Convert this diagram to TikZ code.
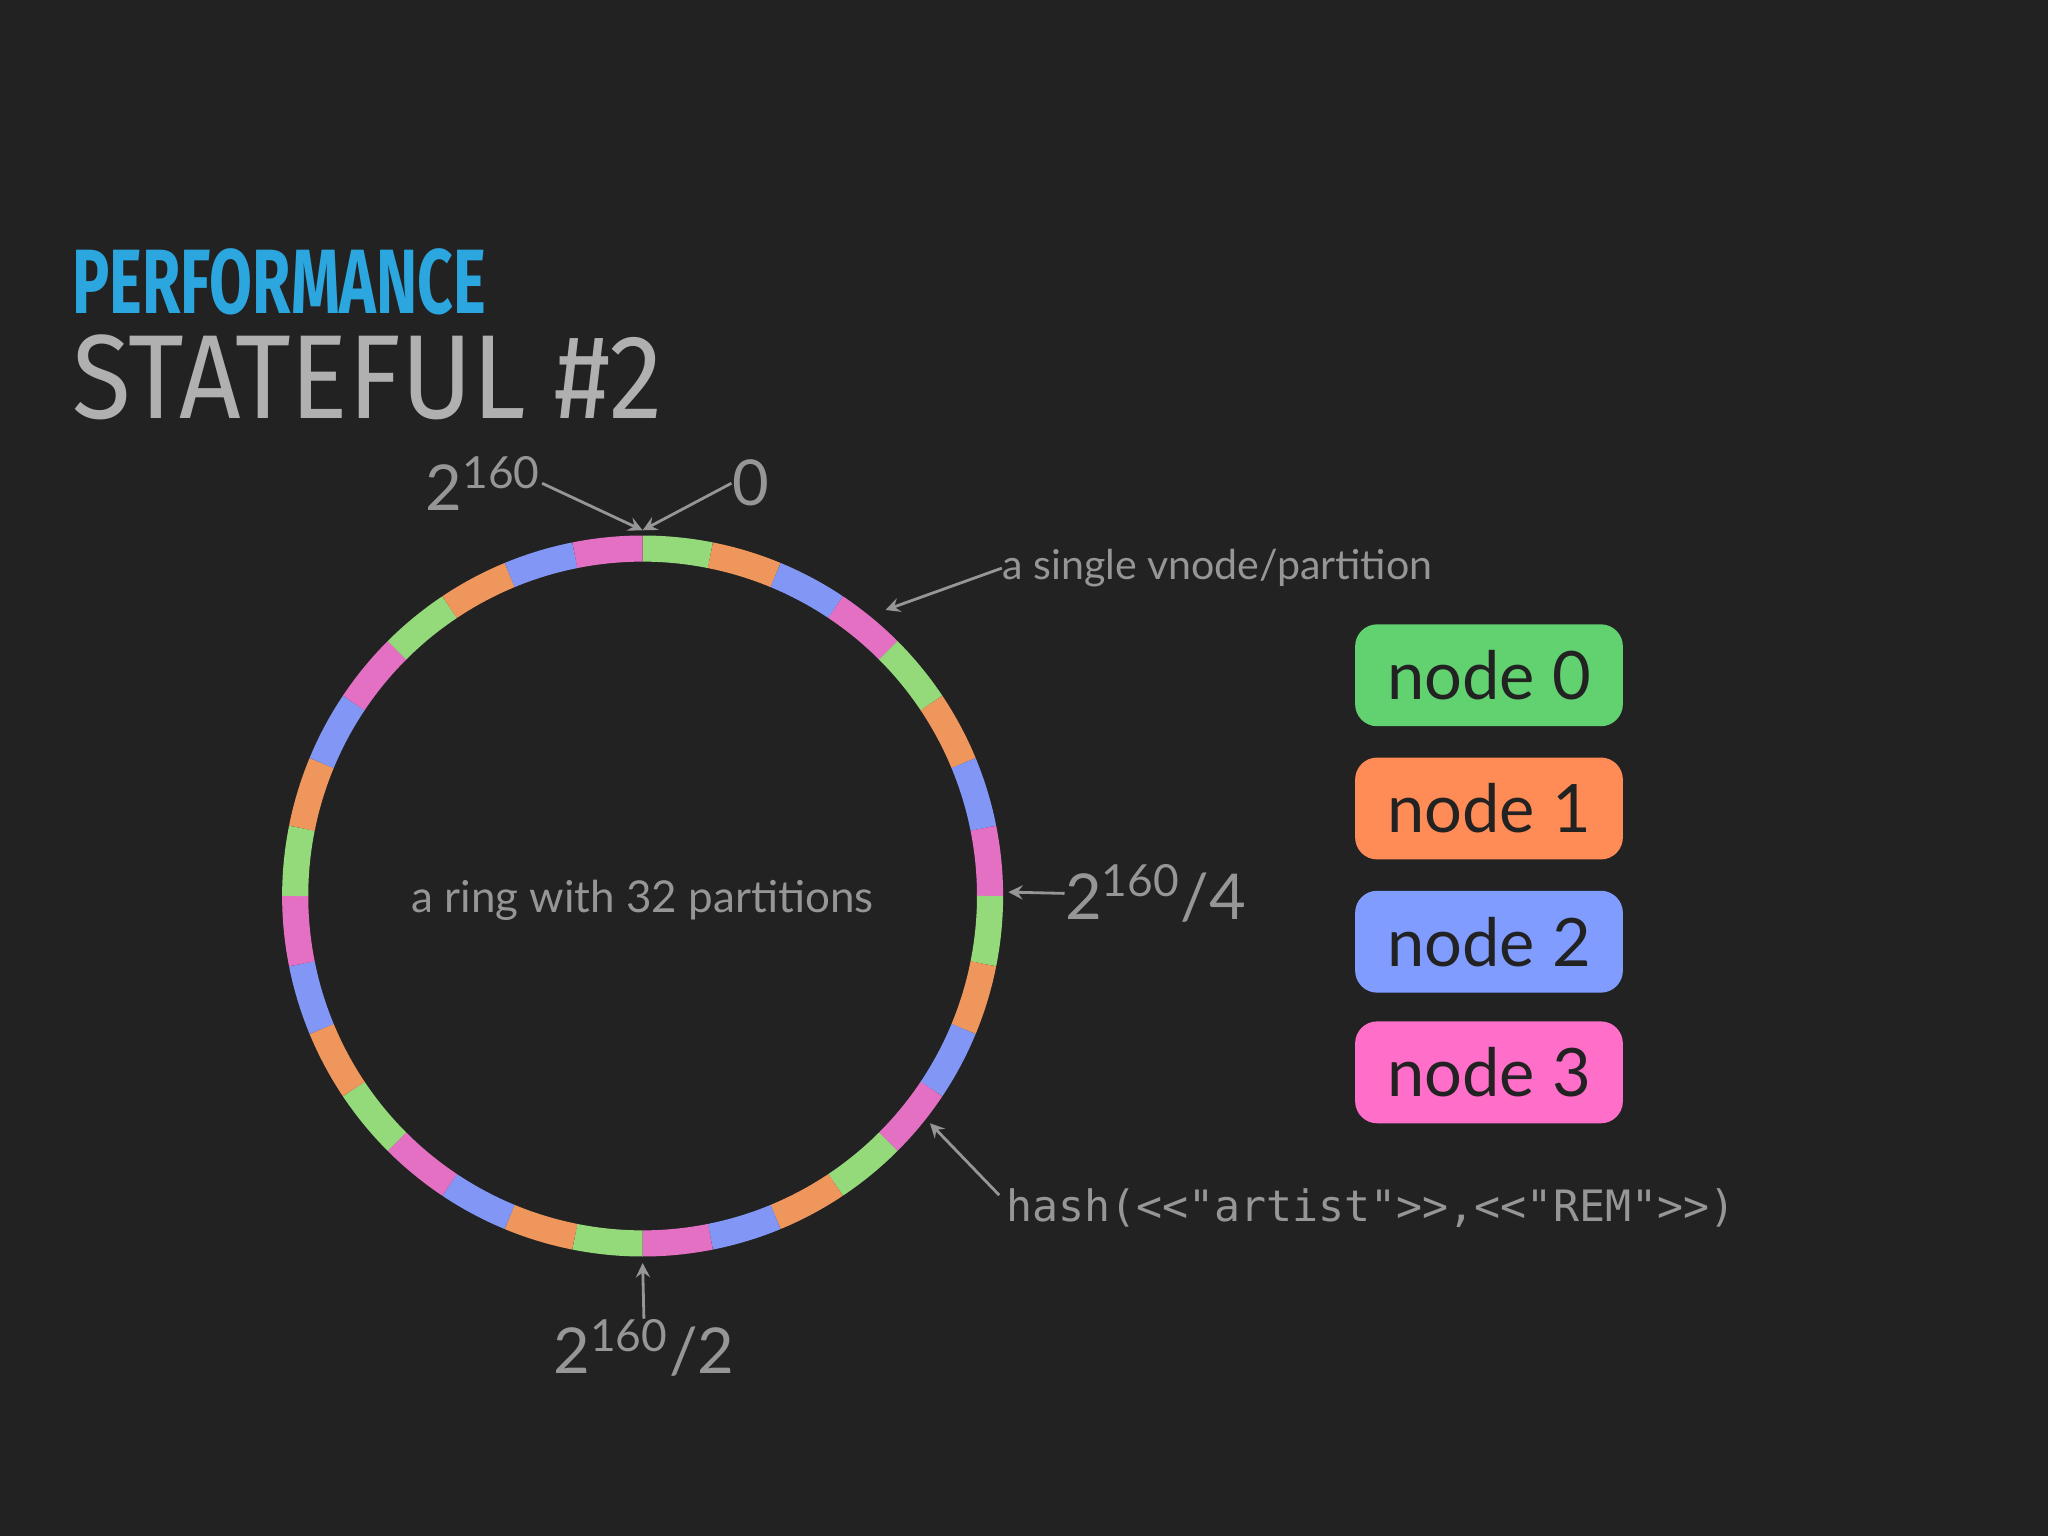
\documentclass[tikz,border=0pt]{standalone}
\usepackage{fontspec}
\setmainfont{Lato}
\newfontfamily\titlefont{Fira Sans}
\setmonofont{DejaVu Sans Mono}
\definecolor{bg}{RGB}{34,34,35}
\definecolor{sgreen}{RGB}{148,218,122}
\definecolor{sorange}{RGB}{238,150,92}
\definecolor{sblue}{RGB}{130,150,245}
\definecolor{spink}{RGB}{228,112,196}
\definecolor{bgreen}{RGB}{98,210,112}
\definecolor{borange}{RGB}{255,140,86}
\definecolor{bblue}{RGB}{128,156,255}
\definecolor{bpink}{RGB}{255,110,200}
\definecolor{tblue}{RGB}{43,166,222}
\definecolor{tgray}{RGB}{176,176,176}
\definecolor{lgray}{RGB}{150,150,150}
\begin{document}
\begin{tikzpicture}[x=0.1306mm,y=0.1306mm,
  lbl/.style={text=lgray,inner sep=0pt},
  arr/.style={draw=lgray,line width=0.8pt,-stealth},
  nbox/.style={fill=#1,rounded corners=2.2mm,minimum width=205*0.1306mm,minimum height=78*0.1306mm,inner sep=0pt,text=bg,font=\fontsize{19}{22}\selectfont}]
\fill[bg] (0,0) rectangle (1568,1176);
\useasboundingbox (0,0) rectangle (1568,1176);
\node[anchor=west,text=tblue,font=\titlefont\bfseries\fontsize{26}{30}\selectfont,xscale=0.68,inner sep=0pt] (t1) at (55,960) {PERFORMANCE};
\node[anchor=west,text=tgray,font=\titlefont\fontsize{34}{40}\selectfont,xscale=0.9,inner sep=0pt] (t2) at (55,887) {STATEFUL \#2};
\coordinate (c) at (492,490);
\foreach \k in {0,...,31}{
  \pgfmathtruncatemacro{\m}{mod(\k,4)}
  \ifcase\m \def\col{sgreen}\or \def\col{sorange}\or \def\col{sblue}\or \def\col{spink}\fi
  \pgfmathsetmacro{\a}{90-11.25*\k}
  \draw[\col,line width=20*0.1306mm] ([shift={(\a:266)}]c) arc[start angle=\a,end angle=\a-11.25,radius=266];
}
\node[lbl,font=\fontsize{12.5}{15}\selectfont] (ringlbl) at (492,487) {a ring with 32 partitions};
\node[lbl,font=\fontsize{18}{22}\selectfont,anchor=east] (top2) at (415,806) {2\textsuperscript{160}};
\node[lbl,font=\fontsize{18}{22}\selectfont,anchor=west] (top0) at (560,806) {0};
\node[lbl,font=\fontsize{11.7}{13}\selectfont,anchor=west] (vn) at (767,741) {a single vnode/partition};
\node[lbl,font=\fontsize{18}{22}\selectfont,anchor=west] (q4) at (815,492) {2\textsuperscript{160}/4};
\node[lbl,font=\ttfamily\fontsize{12.3}{15}\selectfont,anchor=west] (hash) at (770,251) {hash(<<"artist">>,<<"REM">>)};
\node[lbl,font=\fontsize{18}{22}\selectfont] (q2) at (493,144) {2\textsuperscript{160}/2};
\coordinate (ptop) at (492,770);
\coordinate (pvn) at (678,709);
\coordinate (pq4) at (772,493);
\coordinate (phash) at (712,316);
\coordinate (pq2) at (492,209);
\draw[arr] (top2.east) -- (ptop);
\draw[arr] (top0.west) -- (ptop);
\draw[arr] (vn.west) -- (pvn);
\draw[arr] (q4.west) -- (pq4);
\draw[arr] (765,261) -- (phash);
\draw[arr] (q2.north) -- (pq2);
\node[nbox=bgreen] (n0) at (1140,659) {node 0};
\node[nbox=borange] (n1) at (1140,557) {node 1};
\node[nbox=bblue] (n2) at (1140,455) {node 2};
\node[nbox=bpink] (n3) at (1140,355) {node 3};
\end{tikzpicture}
\end{document}
